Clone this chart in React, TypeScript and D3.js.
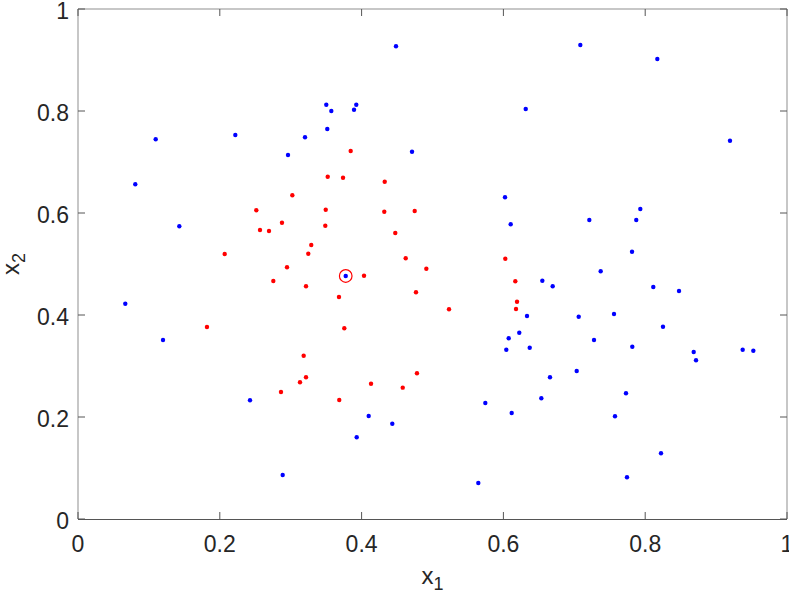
import React from "react";
import * as d3 from "d3";

const blueX = [0.1096,0.2219,0.3202,0.2962,0.0808,0.1429,0.4485,0.3502,0.3573,0.3925,0.3893,0.6315,0.3516,0.4711,0.6023,0.6103,0.7085,0.8171,0.9196,0.7931,0.7212,0.7874,0.7814,0.7372,0.6549,0.6695,0.8114,0.8477,0.7062,0.756,0.8251,0.7278,0.7818,0.8684,0.8717,0.9375,0.9525,0.7034,0.6657,0.6535,0.7729,0.7574,0.8223,0.7743,0.6333,0.6224,0.6075,0.6371,0.6041,0.5745,0.6117,0.41,0.4433,0.3931,0.5646,0.0667,0.1199,0.2426,0.2887,0.3776];
const blueY = [0.7445,0.7529,0.7484,0.7137,0.6563,0.5739,0.9269,0.8124,0.8,0.8124,0.8025,0.8039,0.7647,0.7202,0.6308,0.5778,0.9294,0.902,0.7418,0.6078,0.5863,0.5863,0.5241,0.4857,0.4673,0.4563,0.4549,0.4471,0.3967,0.402,0.3771,0.351,0.3378,0.3275,0.3112,0.332,0.33,0.2902,0.2778,0.2367,0.2465,0.2014,0.1288,0.0818,0.398,0.3653,0.3543,0.3359,0.332,0.2275,0.2078,0.202,0.1869,0.1602,0.0706,0.4222,0.351,0.2327,0.0863,0.4765];
const redX = [0.3023,0.2515,0.2877,0.2567,0.2694,0.2069,0.329,0.3248,0.2948,0.2755,0.3216,0.3846,0.3522,0.3738,0.4326,0.3494,0.432,0.4749,0.3488,0.4475,0.4622,0.6027,0.4913,0.4034,0.6168,0.3681,0.4767,0.5233,0.6192,0.6178,0.3756,0.1819,0.3183,0.3216,0.3131,0.2863,0.4781,0.4133,0.458,0.3685];
const redY = [0.6347,0.6053,0.581,0.5667,0.5647,0.5196,0.5373,0.5202,0.4935,0.4667,0.4563,0.7216,0.6712,0.6692,0.6614,0.6065,0.6025,0.6039,0.5751,0.5608,0.5112,0.5104,0.4908,0.477,0.4661,0.4353,0.4445,0.4112,0.4261,0.4118,0.3739,0.3765,0.3202,0.2778,0.268,0.249,0.2857,0.2653,0.2575,0.2333];
const queryPoint = [0.3776, 0.4765];
const xTicks = [0, 0.2, 0.4, 0.6, 0.8, 1];
const yTicks = [0, 0.2, 0.4, 0.6, 0.8, 1];

export default function App() {
  const W = 789, H = 597;
  const L = 78, R = 787, T = 9, B = 519;
  const x = d3.scaleLinear().domain([0, 1]).range([L, R]);
  const y = d3.scaleLinear().domain([0, 1]).range([B, T]);
  const font = "'Liberation Sans', Arial, Helvetica, sans-serif";
  const tc = "#262626";
  const fs = 23;
  const tl = 7;
  return (
    <svg width={W} height={H} style={{ position: "absolute", left: 0, top: 0, background: "#fff" }}>
      <rect x={0} y={0} width={W} height={H} fill="#fff" />
      <line x1={L} y1={B + 0.5} x2={R} y2={B + 0.5} stroke="#555" strokeWidth={1} />
      <line x1={L} y1={T} x2={R} y2={T} stroke="#8f8f8f" strokeWidth={1} />
      <line x1={L} y1={T} x2={L} y2={B} stroke="#8f8f8f" strokeWidth={1} />
      <line x1={R} y1={T} x2={R} y2={B} stroke="#8f8f8f" strokeWidth={1} />
      {xTicks.map((t) => (
        <g key={"xt" + t}>
          <line x1={x(t)} x2={x(t)} y1={B} y2={B - tl} stroke="#555" strokeWidth={1} />
          <line x1={x(t)} x2={x(t)} y1={T} y2={T + tl} stroke="#555" strokeWidth={1} />
          <text x={x(t)} y={B + 33} textAnchor="middle" fontFamily={font} fontSize={fs} fill={tc}>
            {d3.format("~g")(t)}
          </text>
        </g>
      ))}
      {yTicks.map((t) => (
        <g key={"yt" + t}>
          <line x1={L} x2={L + tl} y1={y(t)} y2={y(t)} stroke="#555" strokeWidth={1} />
          <line x1={R} x2={R - tl} y1={y(t)} y2={y(t)} stroke="#555" strokeWidth={1} />
          <text x={L - 9} y={y(t) + 9.7} textAnchor="end" fontFamily={font} fontSize={fs} fill={tc}>
            {d3.format("~g")(t)}
          </text>
        </g>
      ))}
      {blueX.map((v, i) => (
        <circle key={"b" + i} cx={x(v)} cy={y(blueY[i])} r={2.2} fill="#0000ff" />
      ))}
      {redX.map((v, i) => (
        <circle key={"r" + i} cx={x(v)} cy={y(redY[i])} r={2.2} fill="#ff0000" />
      ))}
      <circle cx={x(queryPoint[0])} cy={y(queryPoint[1])} r={6.3} fill="none" stroke="#ff0000" strokeWidth={1.2} />
      <text x={(L + R) / 2} y={584} textAnchor="middle" fontFamily={font} fontSize={24} fill={tc}>
        x<tspan fontSize={18} dy={6}>1</tspan>
      </text>
      <text transform={`translate(19,${(T + B) / 2}) rotate(-90)`} textAnchor="middle" fontFamily={font} fontSize={24} fill={tc}>
        x<tspan fontSize={18} dy={6}>2</tspan>
      </text>
    </svg>
  );
}
